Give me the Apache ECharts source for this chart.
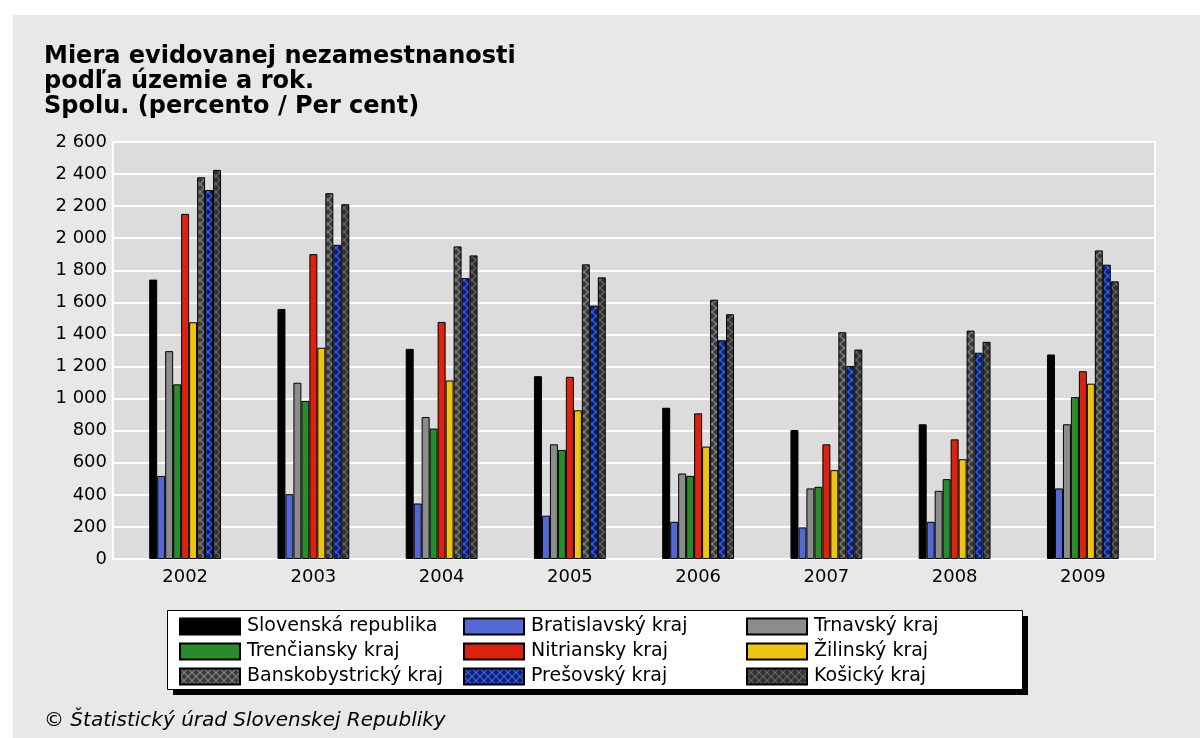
<!DOCTYPE html>
<html>
<head>
<meta charset="utf-8">
<script src="https://cdn.jsdelivr.net/npm/echarts@6/dist/echarts.min.js"></script>
<style>
html,body{margin:0;padding:0;background:#fff;width:1200px;height:738px;overflow:hidden;}
#panel{position:absolute;left:13px;top:15px;width:1187px;height:723px;background:#e8e8e8;}
#chart{position:absolute;left:0;top:0;width:1200px;height:738px;}
</style>
</head>
<body>
<div id="panel"></div>
<div id="chart"></div>
<script>
const years = ['2002','2003','2004','2005','2006','2007','2008','2009'];
const seriesNames = ['Slovenská republika','Bratislavský kraj','Trnavský kraj','Trenčiansky kraj','Nitriansky kraj','Žilinský kraj','Banskobystrický kraj','Prešovský kraj','Košický kraj'];
const slovenskaRepublika = [1742, 1559, 1310, 1140, 943, 804, 840, 1275];
const bratislavsky = [518, 404, 346, 270, 232, 197, 232, 440];
const trnavsky = [1296, 1099, 885, 715, 533, 440, 425, 840];
const trenciansky = [1089, 985, 813, 680, 518, 450, 498, 1010];
const nitriansky = [2152, 1901, 1478, 1136, 908, 715, 746, 1171];
const zilinsky = [1476, 1317, 1113, 927, 701, 554, 622, 1093];
const banskobystricky = [2380, 2281, 1949, 1837, 1617, 1414, 1424, 1924];
const presovsky = [2301, 1959, 1752, 1580, 1364, 1203, 1286, 1835];
const kosicky = [2426, 2212, 1893, 1756, 1526, 1306, 1354, 1731];
const yTicks = {min: 0, max: 2600, interval: 200};

function pattern(bg, fg) {
  const c = document.createElement('canvas');
  c.width = 8; c.height = 8;
  const g = c.getContext('2d');
  g.fillStyle = bg; g.fillRect(0, 0, 8, 8);
  g.strokeStyle = fg; g.lineWidth = 1.1;
  g.beginPath();
  g.moveTo(0, 0); g.lineTo(8, 8);
  g.moveTo(8, 0); g.lineTo(0, 8);
  g.stroke();
  return {image: c, repeat: 'repeat'};
}

const colors = [
  '#000000', '#5468d4', '#8c8c8c', '#2a8a2e', '#dc2210', '#eec414',
  pattern('#3a3a3a', '#8a8a8a'), pattern('#0a2080', '#4a6ad8'), pattern('#303030', '#6c6c6c')
];
const values = [slovenskaRepublika, bratislavsky, trnavsky, trenciansky, nitriansky, zilinsky, banskobystricky, presovsky, kosicky];

const series = seriesNames.map((n, i) => ({
  name: n,
  type: 'bar',
  xAxisIndex: 1,
  yAxisIndex: 1,
  data: values[i],
  barGap: '0%',
  barCategoryGap: '44%',
  itemStyle: {color: colors[i], borderColor: '#000', borderWidth: 1},
  emphasis: {disabled: true}
}));

const legendBase = {
  orient: 'vertical',
  top: 617,
  padding: 0,
  itemWidth: 60,
  itemHeight: 16,
  itemGap: 6,
  icon: 'rect',
  textStyle: {fontFamily: 'DejaVu Sans', fontSize: 19, lineHeight: 19, color: '#000', padding: [0, 0, 0, 2]},
  selectedMode: false
};

const labelFont = {fontFamily: 'DejaVu Sans', fontSize: 18, color: '#000'};

const chart = echarts.init(document.getElementById('chart'), null, {renderer: 'canvas'});
chart.setOption({
  backgroundColor: 'transparent',
  animation: false,
  title: {
    text: 'Miera evidovanej nezamestnanosti\npodľa územie a rok.\nSpolu. (percento / Per cent)',
    left: 44, top: 44, padding: 0,
    textStyle: {fontFamily: 'DejaVu Sans', fontWeight: 'bold', fontSize: 24, lineHeight: 25, color: '#000'}
  },
  grid: [
    {left: 113, right: 45, top: 142, bottom: 179, show: true, backgroundColor: '#dcdcdc', borderColor: '#ffffff', borderWidth: 2},
    {left: 121, right: 53, top: 142, bottom: 179}
  ],
  xAxis: [
    {gridIndex: 0, type: 'category', data: years, show: false},
    {gridIndex: 1, type: 'category', data: years,
     axisLine: {show: false}, axisTick: {show: false},
     axisLabel: Object.assign({margin: 9}, labelFont)}
  ],
  yAxis: [
    {gridIndex: 0, type: 'value', min: yTicks.min, max: yTicks.max, interval: yTicks.interval,
     axisLine: {show: false}, axisTick: {show: false},
     splitLine: {lineStyle: {color: '#ffffff', width: 2}},
     axisLabel: Object.assign({margin: 6,
       formatter: v => String(v).replace(/\B(?=(\d{3})+(?!\d))/g, ' ')}, labelFont)},
    {gridIndex: 1, type: 'value', min: yTicks.min, max: yTicks.max, interval: yTicks.interval, show: false,
     splitLine: {show: false}}
  ],
  legend: [
    Object.assign({}, legendBase, {left: 179, data: [seriesNames[0], seriesNames[3], seriesNames[6]]}),
    Object.assign({}, legendBase, {left: 463, data: [seriesNames[1], seriesNames[4], seriesNames[7]]}),
    Object.assign({}, legendBase, {left: 746, data: [seriesNames[2], seriesNames[5], seriesNames[8]]})
  ],
  graphic: [
    {type: 'rect', z: -2, shape: {x: 173, y: 616, width: 855, height: 79}, style: {fill: '#000'}},
    {type: 'rect', z: -1, shape: {x: 167.5, y: 610.5, width: 855, height: 79},
     style: {fill: '#fff', stroke: '#000', lineWidth: 1}},
    {type: 'text', left: 44, top: 711,
     style: {text: '© Štatistický úrad Slovenskej Republiky', fontFamily: 'DejaVu Sans', fontStyle: 'italic', fontSize: 20, fill: '#000'}}
  ],
  series: series
});
</script>
</body>
</html>
